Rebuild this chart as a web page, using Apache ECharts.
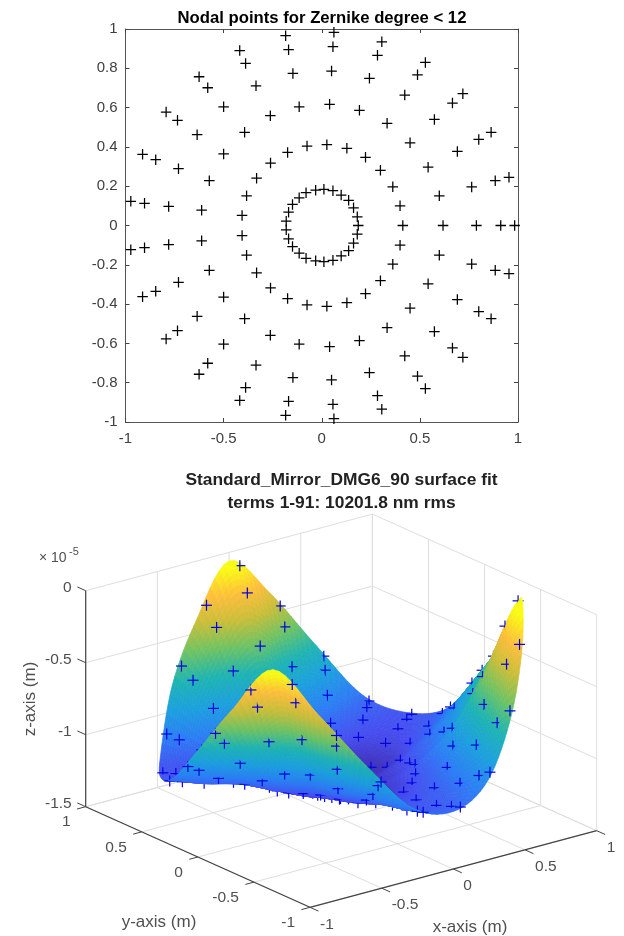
<!DOCTYPE html>
<html>
<head>
<meta charset="utf-8">
<style>html,body{margin:0;padding:0;background:#fff}#c{width:624px;height:936px}#c canvas{filter:blur(0.4px)}</style>
<script src="https://cdn.jsdelivr.net/npm/echarts@6/dist/echarts.min.js"></script>
</head>
<body>
<div id="c"></div>
<script>
// ---------- Nodal points ----------
const nodesUpper = [
 [-0.184,0.966],[-0.169,0.895],[-0.147,0.774],[-0.115,0.604],[-0.075,0.404],[-0.031,0.18],
 [-0.418,0.89],[-0.388,0.825],[-0.335,0.711],[-0.262,0.559],[-0.174,0.372],[-0.08,0.167],
 [-0.625,0.757],[-0.581,0.701],[-0.5,0.604],[-0.393,0.474],[-0.261,0.318],[-0.115,0.141],
 [-0.793,0.577],[-0.735,0.535],[-0.635,0.462],[-0.5,0.364],[-0.332,0.241],[-0.149,0.107],
 [-0.913,0.362],[-0.846,0.335],[-0.73,0.289],[-0.573,0.228],[-0.383,0.151],[-0.169,0.068],
 [-0.973,0.123],[-0.903,0.113],[-0.78,0.097],[-0.612,0.078],[-0.406,0.051],[-0.181,0.022],
 [0.062,0.983],[0.057,0.91],[0.05,0.786],[0.04,0.617],[0.026,0.411],[0.011,0.184],
 [0.306,0.935],[0.284,0.866],[0.243,0.749],[0.192,0.586],[0.128,0.393],[0.057,0.177],
 [0.528,0.83],[0.488,0.767],[0.423,0.664],[0.333,0.52],[0.223,0.347],[0.099,0.155],
 [0.719,0.671],[0.666,0.623],[0.574,0.54],[0.45,0.421],[0.299,0.281],[0.137,0.128],
 [0.863,0.474],[0.8,0.438],[0.691,0.377],[0.542,0.297],[0.362,0.197],[0.162,0.09],
 [0.954,0.245],[0.884,0.228],[0.764,0.196],[0.599,0.151],[0.399,0.1],[0.181,0.044]
];
const nodesAxis = [[0.186,0],[0.413,0],[0.618,0],[0.788,0],[0.912,0],[0.983,0]];
const nodesLower = [
 [-0.184,-0.966],[-0.169,-0.895],[-0.147,-0.774],[-0.115,-0.604],[-0.075,-0.404],[-0.031,-0.18],
 [-0.418,-0.89],[-0.388,-0.825],[-0.335,-0.711],[-0.262,-0.559],[-0.174,-0.372],[-0.08,-0.167],
 [-0.625,-0.757],[-0.581,-0.701],[-0.5,-0.604],[-0.393,-0.474],[-0.261,-0.318],[-0.115,-0.141],
 [-0.793,-0.577],[-0.735,-0.535],[-0.635,-0.462],[-0.5,-0.364],[-0.332,-0.241],[-0.149,-0.107],
 [-0.913,-0.362],[-0.846,-0.335],[-0.73,-0.289],[-0.573,-0.228],[-0.383,-0.151],[-0.169,-0.068],
 [-0.973,-0.123],[-0.903,-0.113],[-0.78,-0.097],[-0.612,-0.078],[-0.406,-0.051],[-0.181,-0.022],
 [0.062,-0.983],[0.057,-0.91],[0.05,-0.786],[0.04,-0.617],[0.026,-0.411],[0.011,-0.184],
 [0.306,-0.935],[0.284,-0.866],[0.243,-0.749],[0.192,-0.586],[0.128,-0.393],[0.057,-0.177],
 [0.528,-0.83],[0.488,-0.767],[0.423,-0.664],[0.333,-0.52],[0.223,-0.347],[0.099,-0.155],
 [0.719,-0.671],[0.666,-0.623],[0.574,-0.54],[0.45,-0.421],[0.299,-0.281],[0.137,-0.128],
 [0.863,-0.474],[0.8,-0.438],[0.691,-0.377],[0.542,-0.297],[0.362,-0.197],[0.162,-0.09],
 [0.954,-0.245],[0.884,-0.228],[0.764,-0.196],[0.599,-0.151],[0.399,-0.1],[0.181,-0.044]
];

// ---------- Surface heights (units of 1e-5 m) ----------
// Rows are rings of radius surfaceRadii; columns are polar angles 0,15,...,345 degrees.
const surfaceRadii = [0,0.2,0.4,0.6,0.8,1];
const zRing00 = [-1.29,-1.29,-1.29,-1.29,-1.29,-1.29,-1.29,-1.29,-1.29,-1.29,-1.29,-1.29,-1.29,-1.29,-1.29,-1.29,-1.29,-1.29,-1.29,-1.29,-1.29,-1.29,-1.29,-1.29];
const zRing20 = [-1.28,-1.3,-1.3,-1.3,-1.28,-1.275,-1.27,-1.275,-1.28,-1.28,-1.28,-1.28,-1.28,-1.275,-1.27,-1.275,-1.28,-1.28,-1.28,-1.28,-1.28,-1.275,-1.27,-1.275];
const zRing40 = [-1.21,-1.29,-1.31,-1.29,-1.21,-1.18,-1.17,-1.19,-1.21,-1.23,-1.24,-1.23,-1.21,-1.19,-1.17,-1.18,-1.21,-1.23,-1.23,-1.22,-1.2,-1.18,-1.16,-1.19];
const zRing60 = [-1.09,-1.2,-1.23,-1.2,-1.1,-1.01,-0.95,-1.02,-1.1,-1.18,-1.19,-1.16,-1.1,-1.02,-0.95,-1.01,-1.09,-1.16,-1.17,-1.15,-1.08,-1,-0.94,-1.02];
const zRing80 = [-0.93,-1.13,-1.19,-1.14,-0.94,-0.71,-0.55,-0.75,-0.94,-1.16,-1.18,-1.12,-0.95,-0.75,-0.55,-0.72,-0.92,-1.1,-1.15,-1.08,-0.89,-0.67,-0.53,-0.74];
const zRing100 = [-0.72,-1.07,-1.17,-1.08,-0.73,-0.34,-0.06,-0.4,-0.74,-1.12,-1.16,-1.05,-0.76,-0.4,-0.06,-0.35,-0.7,-1.02,-1.1,-0.98,-0.65,-0.27,-0.02,-0.38];
const surfaceZ = [zRing00,zRing20,zRing40,zRing60,zRing80,zRing100];

// ---------- Tick labels ----------
const planXTicks = [-1,-0.5,0,0.5,1];
const planYTicks = [-1,-0.8,-0.6,-0.4,-0.2,0,0.2,0.4,0.6,0.8,1];
const xTicks3d = [-1,-0.5,0,0.5,1];
const yTicks3d = [-1,-0.5,0,0.5,1];
const zTicks3d = [-1.5,-1,-0.5,0];

const parula = [[62,38,168],[70,78,240],[44,125,245],[28,160,222],[30,180,178],[110,195,100],[200,190,58],[254,190,60],[249,251,21]];
const zLow = -1.35, zHigh = -0.1;

// Orthographic view of the box, in page pixels
function project(x,y,z){
  return [341.2+143.35*x-112.15*y, 602.7-38.3*x-50.3*y-144*z];
}
function nearness(x,y,z){ return -1.615*x-2.064*y+1.15*z; }
function mix(t){
  t=Math.max(0,Math.min(1,t))*(parula.length-1);
  const i=Math.min(parula.length-2,Math.floor(t)),f=t-i,a=parula[i],b=parula[i+1];
  return 'rgb('+[0,1,2].map(k=>Math.round(a[k]+(b[k]-a[k])*f)).join(',')+')';
}
function spline(p0,p1,p2,p3,t){
  return 0.5*(2*p1+(p2-p0)*t+(2*p0-5*p1+4*p2-p3)*t*t+(3*p1-p0-3*p2+p3)*t*t*t);
}
// Smooth shading between the read surface heights
function ringAt(row,a){
  const s=a/15, j=Math.floor(s)%24, t=s-Math.floor(s);
  const R=surfaceZ[row], g=k=>R[(k+24)%24];
  return spline(g(j-1),g(j),g(j+1),g(j+2),t);
}
function surfaceAt(r,a){
  a=((a%360)+360)%360;
  const s=Math.min(r,0.99999)/0.2, i=Math.floor(s), t=s-i;
  const g=k=>ringAt(Math.max(0,Math.min(5,k)),a);
  return spline(g(i-1),g(i),g(i+1),g(i+2),t);
}
function surfaceXY(x,y){
  return surfaceAt(Math.min(1,Math.hypot(x,y)),Math.atan2(y,x)*180/Math.PI);
}

// ---------- Build the 3-D drawing list ----------
const frame=[];
const seg=(a,b,color,w)=>frame.push({a:project(...a),b:project(...b),color,w});
const gridC='#dedede', axisC='#444444';
zTicks3d.forEach(z=>{ seg([-1,1,z],[1,1,z],gridC,1); seg([1,1,z],[1,-1,z],gridC,1); });
xTicks3d.forEach(x=>{ seg([x,1,-1.5],[x,1,0],gridC,1); seg([x,-1,-1.5],[x,1,-1.5],gridC,1); });
yTicks3d.forEach(y=>{ seg([1,y,-1.5],[1,y,0],gridC,1); seg([-1,y,-1.5],[1,y,-1.5],gridC,1); });
seg([-1,1,-1.5],[-1,1,0],axisC,1.2);
seg([-1,-1,-1.5],[-1,1,-1.5],axisC,1.2);
seg([-1,-1,-1.5],[1,-1,-1.5],axisC,1.2);
zTicks3d.forEach(z=>seg([-1,1,z],[-1,1.075,z],axisC,1));
yTicks3d.forEach(y=>seg([-1,y,-1.5],[-1.06,y,-1.5],axisC,1));
xTicks3d.forEach(x=>seg([x,-1,-1.5],[x,-1.075,-1.5],axisC,1));

const texts=[];
const lab=(p,text,align,size)=>texts.push({p,text,align,size:size||15.5});
zTicks3d.forEach(z=>{const p=project(-1,1,z);lab([p[0]-14,p[1]-3],String(z),'right');});
yTicks3d.forEach(y=>{const p=project(-1,y,-1.5);lab([p[0]-15,p[1]+15.5],String(y),'right');});
xTicks3d.forEach(x=>{const p=project(x,-1,-1.5);lab([p[0]+10,p[1]+17],String(x),'left');});
lab([39,558],'\u00d7 10','left',14);
lab([69,552],'-5','left',11);
lab([159,922],'y-axis (m)','center',17);
lab([470,927],'x-axis (m)','center',17);

const items=[];
const RS=50, AS=180;
const radiusAt=i=>Math.pow(i/RS,0.7);
for(let i=0;i<RS;i++){
  for(let j=0;j<AS;j++){
    const r0=radiusAt(i),r1=radiusAt(i+1),a0=j*360/AS,a1=(j+1)*360/AS,rm=(r0+r1)/2,am=(a0+a1)/2;
    const pt=(r,a)=>{const c=Math.cos(a*Math.PI/180),s=Math.sin(a*Math.PI/180);return project(r*c,r*s,surfaceAt(r,a));};
    const zm=surfaceAt(rm,am),xm=rm*Math.cos(am*Math.PI/180),ym=rm*Math.sin(am*Math.PI/180);
    items.push({kind:'q',d:nearness(xm,ym,zm),pts:[pt(r0,a0),pt(r1,a0),pt(r1,a1),pt(r0,a1)],fill:mix((zm-zLow)/(zHigh-zLow))});
  }
}
nodesUpper.concat(nodesAxis,nodesLower).forEach(n=>{
  const z=surfaceXY(n[0],n[1]);
  items.push({kind:'m',d:nearness(n[0],n[1],z)+0.08,p:project(n[0],n[1],z)});
});
items.sort((u,v)=>u.d-v.d);

const chart=echarts.init(document.getElementById('c'),null,{renderer:'canvas'});
const pageAxis=(o)=>Object.assign({type:'value',show:false,gridIndex:1},o);
const labelStyle={color:'#404040',fontFamily:'Liberation Sans',fontSize:15};
const tickLine={lineStyle:{color:'#444',width:1}};
chart.setOption({
  animation:false,
  backgroundColor:'#fff',
  title:[
    {text:'Nodal points for Zernike degree < 12',left:317,top:5,textAlign:'center',
     textStyle:{fontFamily:'Liberation Sans',fontWeight:'bold',fontSize:16.7,color:'#000'}},
    {text:'Standard_Mirror_DMG6_90 surface fit\nterms 1-91: 10201.8 nm rms',left:336.5,top:464,textAlign:'center',
     textStyle:{fontFamily:'Liberation Sans',fontWeight:'bold',fontSize:17.4,lineHeight:22.5,color:'#222'}}
  ],
  grid:[
    {left:125.5,top:29,width:392.5,height:393,show:false},
    {left:0,top:0,width:624,height:936,show:false}
  ],
  xAxis:[
    {type:'value',gridIndex:0,min:-1,max:1,interval:0.5,position:'bottom',
     axisLine:{show:true,onZero:false,lineStyle:{color:'#555',width:1}},
     axisTick:{show:true,inside:true,length:4,...tickLine},
     axisLabel:Object.assign({margin:9,formatter:v=>planXTicks.includes(v)?String(v):''},labelStyle),
     splitLine:{show:false}},
    {type:'value',gridIndex:0,min:-1,max:1,interval:0.5,position:'top',
     axisLine:{show:true,onZero:false,lineStyle:{color:'#555',width:1}},
     axisTick:{show:true,inside:true,length:4,...tickLine},axisLabel:{show:false},splitLine:{show:false}},
    pageAxis({min:0,max:624})
  ],
  yAxis:[
    {type:'value',gridIndex:0,min:-1,max:1,interval:0.2,position:'left',
     axisLine:{show:true,onZero:false,lineStyle:{color:'#555',width:1}},
     axisTick:{show:true,inside:true,length:4,...tickLine},
     axisLabel:Object.assign({margin:8,formatter:v=>{const t=planYTicks.find(k=>Math.abs(k-v)<1e-6);return t===undefined?'':String(t);}},labelStyle),
     splitLine:{show:false}},
    {type:'value',gridIndex:0,min:-1,max:1,interval:0.2,position:'right',
     axisLine:{show:true,onZero:false,lineStyle:{color:'#555',width:1}},
     axisTick:{show:true,inside:true,length:4,...tickLine},axisLabel:{show:false},splitLine:{show:false}},
    pageAxis({min:0,max:936,inverse:true})
  ],
  series:[
    {type:'scatter',name:'Nodal points',xAxisIndex:0,yAxisIndex:0,
     data:nodesUpper.concat(nodesAxis,nodesLower),
     symbol:'path://M4.4 0h1.2v4.4h4.4v1.2h-4.4v4.4h-1.2v-4.4h-4.4v-1.2h4.4z',symbolSize:10.5,
     itemStyle:{color:'#000',opacity:1},silent:true,clip:false},
    {type:'custom',name:'Box',xAxisIndex:2,yAxisIndex:2,clip:false,silent:true,
     data:frame.map((_,i)=>[i]),
     renderItem:(params,api)=>{
       const f=frame[params.dataIndex],a=api.coord(f.a),b=api.coord(f.b);
       return {type:'line',shape:{x1:a[0],y1:a[1],x2:b[0],y2:b[1]},style:{stroke:f.color,lineWidth:f.w}};
     }},
    {type:'custom',name:'Surface',xAxisIndex:2,yAxisIndex:2,clip:false,silent:true,progressive:0,
     data:items.map((_,i)=>[i]),
     renderItem:(params,api)=>{
       const it=items[params.dataIndex];
       if(it.kind==='q'){
         return {type:'polygon',shape:{points:it.pts.map(p=>api.coord(p))},style:{fill:it.fill,stroke:it.fill,lineWidth:0.7}};
       }
       const c=api.coord(it.p),L=5.5;
       return {type:'group',children:[
         {type:'line',shape:{x1:c[0]-L,y1:c[1],x2:c[0]+L,y2:c[1]},style:{stroke:'#0000e0',lineWidth:1.2}},
         {type:'line',shape:{x1:c[0],y1:c[1]-L,x2:c[0],y2:c[1]+L},style:{stroke:'#0000e0',lineWidth:1.2}}
       ]};
     }},
    {type:'custom',name:'Labels',xAxisIndex:2,yAxisIndex:2,clip:false,silent:true,
     data:texts.map((_,i)=>[i]),
     renderItem:(params,api)=>{
       const t=texts[params.dataIndex],c=api.coord(t.p);
       return {type:'text',style:{x:c[0],y:c[1],text:t.text,fill:'#505050',
         font:t.size+'px "Liberation Sans"',align:t.align,verticalAlign:'middle'}};
     }}
  ],
  graphic:[{type:'text',rotation:Math.PI/2,x:30,y:699,
    style:{text:'z-axis (m)',fill:'#505050',font:'17px "Liberation Sans"',align:'center',verticalAlign:'middle'}}]
});
</script>
</body>
</html>
